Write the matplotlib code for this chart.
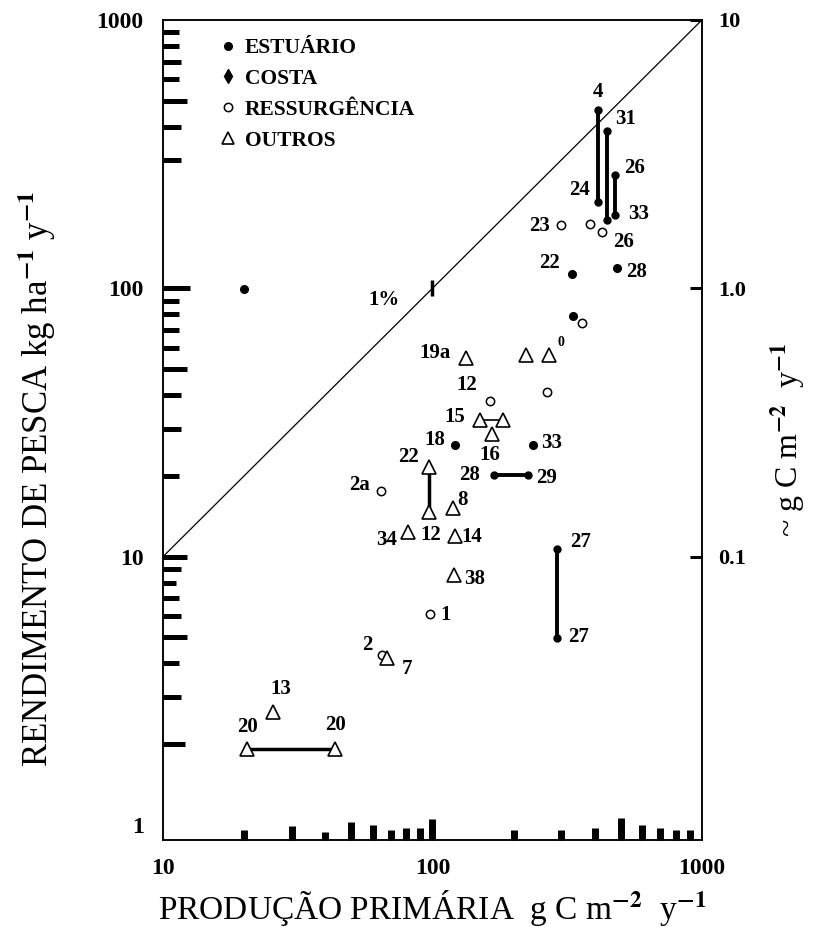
import matplotlib
matplotlib.use('Agg')
import matplotlib.pyplot as plt
import matplotlib.transforms as mtransforms
from matplotlib.lines import Line2D
from matplotlib.ticker import NullLocator

plt.rcParams['font.family'] = ['Liberation Serif', 'DejaVu Serif']
plt.rcParams['mathtext.fontset'] = 'stix'

# ---------------- dados ----------------
# ESTUÁRIO - pontos isolados
est_x = [20, 329, 484, 332, 121, 236]
est_y = [99.5, 113, 119, 78.9, 26.1, 26.1]
est_lab = ['', '22', '28', '', '18', '33']

# ESTUÁRIO - intervalos (dois valores ligados por uma linha)
est_rng_x0 = [411, 444, 475, 290, 169]
est_rng_x1 = [411, 444, 475, 290, 226]
est_rng_y0 = [462, 386, 265, 10.7, 20.2]
est_rng_y1 = [210, 180, 188, 4.98, 20.2]
est_rng_lab0 = ['4', '31', '26', '27', '28']
est_rng_lab1 = ['24', '26', '33', '27', '29']

# RESSURGÊNCIA
res_x = [300, 384, 426, 359, 163, 266, 64.4, 98, 65]
res_y = [172, 174, 162, 74.3, 38.1, 41.1, 17.6, 6.12, 4.31]
res_lab = ['23', '', '', '', '12', '', '2a', '1', '2']

# OUTROS
out_x = [133, 222, 271, 166, 119, 81, 121, 120, 68, 25.6]
out_y = [55.1, 56.5, 56.5, 28.7, 15.2, 12.4, 11.9, 8.55, 4.20, 2.64]
out_lab = ['19a', '', '0', '16', '8', '34', '14', '38', '7', '13']

# OUTROS - intervalos
out_rng_x0 = [150, 97, 20.5]
out_rng_x1 = [183, 97, 43.5]
out_rng_y0 = [32.4, 21.6, 1.92]
out_rng_y1 = [32.4, 14.7, 1.92]
out_rng_lab0 = ['15', '22', '20']
out_rng_lab1 = ['', '12', '20']

# linha de 1 %
ref_x = [10, 1000]
ref_y = [10, 1000]

# ---------------- posicao dos rotulos (pixels) ----------------
est_off = [(0, 0), (-22, 11), (20, -4), (0, 0), (-20, 5), (19, 2)]
est_rng_off0 = [(0, 18), (19, 12), (20, 7), (23, 7), (-24, 0)]
est_rng_off1 = [(-18, 12), (17, -22), (24, 1), (21, 1), (19, -3)]
res_off = [(-21, -1), (0, 0), (0, 0), (0, 0), (-23, 16), (0, 0), (-21, 6), (15, -1), (-15, 10)]
out_off = [(-31, 5), (0, 0), (12, 12), (-2, -21), (10, 8), (-21, -8), (17, -1), (21, -4), (20, -11), (8, 23)]
out_rng_off0 = [(-25, 3), (-20, 10), (1, 22)]
out_rng_off1 = [(0, 0), (2, -23), (0, 24)]
out_rng_lw = [1.2, 2.5, 2.5]

# marcas das escalas (comprimento em px)
y_minor = [2, 3, 4, 5, 6, 7, 8, 9, 10, 20, 30, 40, 50, 60, 70, 80, 90, 100,
           300, 400, 500, 600, 700, 800, 900]
y_minor_len = [22, 18, 16, 24, 18, 16, 13, 18, 24, 16, 18, 18, 24, 16, 16, 16, 16, 27,
               18, 18, 24, 16, 18, 16, 16]
x_minor = [20, 30, 40, 50, 60, 70, 80, 90, 100, 200, 300, 400, 500, 600, 700, 800, 900]
x_minor_len = [10, 14, 8, 18, 15, 10, 12, 12, 21, 10, 10, 12, 22, 15, 12, 10, 10]

AX_W, AX_H = 539, 820

fig = plt.figure(figsize=(8.21, 9.27), dpi=100)
ax = fig.add_axes([0.1985, 0.0939, 0.6565, 0.8846])
ax.set_xscale('log')
ax.set_yscale('log')
ax.set_xlim(10, 1000)
ax.set_ylim(0.88, 1000)

for s in ax.spines.values():
    s.set_linewidth(1.1)

# linha 1 %
ax.plot(ref_x, ref_y, color='black', lw=0.9)
ax.plot([100], [100], marker='|', ms=12, mew=2.5, color='black')
ax.annotate('1%', (100, 100), xytext=(-48, -12), textcoords='offset pixels',
            ha='center', va='center', fontsize=15, fontweight='bold')


def put_label(x, y, txt, off, size=15):
    if txt:
        ax.annotate(txt, (x, y), xytext=off, textcoords='offset pixels',
                    ha='center', va='center', fontsize=size, fontweight='bold')


# estuario
ax.plot(est_x, est_y, 'o', ms=5.5, color='black', ls='none', zorder=3)
for x, y, t, o in zip(est_x, est_y, est_lab, est_off):
    put_label(x, y, t, o)
for i in range(len(est_rng_x0)):
    ax.plot([est_rng_x0[i], est_rng_x1[i]], [est_rng_y0[i], est_rng_y1[i]],
            color='black', lw=2.8, solid_capstyle='butt', zorder=2)
    ax.plot([est_rng_x0[i], est_rng_x1[i]], [est_rng_y0[i], est_rng_y1[i]],
            'o', ms=5, color='black', zorder=3)
    put_label(est_rng_x0[i], est_rng_y0[i], est_rng_lab0[i], est_rng_off0[i])
    put_label(est_rng_x1[i], est_rng_y1[i], est_rng_lab1[i], est_rng_off1[i])

# ressurgencia
ax.plot(res_x, res_y, 'o', ms=6, mfc='white', mec='black', mew=1.1, ls='none', zorder=3)
for x, y, t, o in zip(res_x, res_y, res_lab, res_off):
    put_label(x, y, t, o)

# outros
ax.plot(out_x, out_y, '^', ms=10, mfc='white', mec='black', mew=1.2, ls='none', zorder=3)
for x, y, t, o in zip(out_x, out_y, out_lab, out_off):
    put_label(x, y, t, o, size=10 if t == '0' else 15)
for i in range(len(out_rng_x0)):
    ax.plot([out_rng_x0[i], out_rng_x1[i]], [out_rng_y0[i], out_rng_y1[i]],
            color='black', lw=out_rng_lw[i], solid_capstyle='butt', zorder=2)
    ax.plot([out_rng_x0[i], out_rng_x1[i]], [out_rng_y0[i], out_rng_y1[i]],
            '^', ms=10, mfc='white', mec='black', mew=1.2, zorder=3)
    put_label(out_rng_x0[i], out_rng_y0[i], out_rng_lab0[i], out_rng_off0[i])
    put_label(out_rng_x1[i], out_rng_y1[i], out_rng_lab1[i], out_rng_off1[i])

# marcas grossas nos eixos
tr_left = mtransforms.blended_transform_factory(ax.transAxes, ax.transData)
for v, L in zip(y_minor, y_minor_len):
    ax.plot([0, L / AX_W], [v, v], transform=tr_left, color='black', lw=3.6,
            solid_capstyle='butt', clip_on=False)
tr_bot = mtransforms.blended_transform_factory(ax.transData, ax.transAxes)
for v, L in zip(x_minor, x_minor_len):
    ax.plot([v, v], [0, L / AX_H], transform=tr_bot, color='black', lw=5,
            solid_capstyle='butt', clip_on=False)

# escalas
ax.xaxis.set_minor_locator(NullLocator())
ax.yaxis.set_minor_locator(NullLocator())
ax.set_xticks([10, 100, 1000])
ax.set_xticklabels(['10', '100', '1000'])
ax.set_yticks([1, 10, 100, 1000])
ax.set_yticklabels(['1', '10', '100', '1000'])
ax.tick_params(axis='x', length=0, pad=13, labelsize=17)
ax.tick_params(axis='y', length=0, pad=14, labelsize=17)
for lab in ax.get_xticklabels() + ax.get_yticklabels():
    lab.set_fontweight('bold')

ax.set_xlabel(r'PRODUÇÃO PRIMÁRIA  g C m$^{\mathbf{-2}}$  y$^{\mathbf{-1}}$', fontsize=24)
ax.xaxis.set_label_coords(0.499, -0.058)
ax.set_ylabel(r'RENDIMENTO DE PESCA kg ha$^{\mathbf{-1}}$ y$^{\mathbf{-1}}$', fontsize=25)
ax.yaxis.set_label_coords(-0.195, 0.44)

# eixo da direita
ax2 = ax.twinx()
ax2.set_yscale('log')
ax2.set_ylim(0.0088, 10)
ax2.yaxis.set_minor_locator(NullLocator())
ax2.set_yticks([0.1, 1, 10])
ax2.set_yticklabels(['0.1', '1.0', '10'])
ax2.tick_params(axis='y', direction='in', length=9, width=2.2, pad=12, labelsize=16)
for lab in ax2.get_yticklabels():
    lab.set_fontweight('bold')
ax2.set_ylabel(r'~ g C m$^{\mathbf{-2}}$  y$^{\mathbf{-1}}$', fontsize=23, rotation=90)
ax2.yaxis.set_label_coords(1.124, 0.488)
for s in ax2.spines.values():
    s.set_linewidth(1.1)

# legenda
handles = [
    Line2D([], [], ls='none', marker='o', ms=5.5, color='black'),
    Line2D([], [], ls='none', marker='d', ms=7, color='black'),
    Line2D([], [], ls='none', marker='o', ms=6, mfc='white', mec='black', mew=1.1),
    Line2D([], [], ls='none', marker='^', ms=8, mfc='white', mec='black', mew=1.2),
]
labels = ['ESTUÁRIO', 'COSTA', 'RESSURGÊNCIA', 'OUTROS']
ax2.legend(handles, labels, loc='upper left', bbox_to_anchor=(0.10, 0.978),
           frameon=False, handlelength=1.0, handletextpad=0.3, labelspacing=0.5,
           borderaxespad=0, borderpad=0, prop={'weight': 'bold', 'size': 15.5})

fig.savefig('out.png', dpi=100)
